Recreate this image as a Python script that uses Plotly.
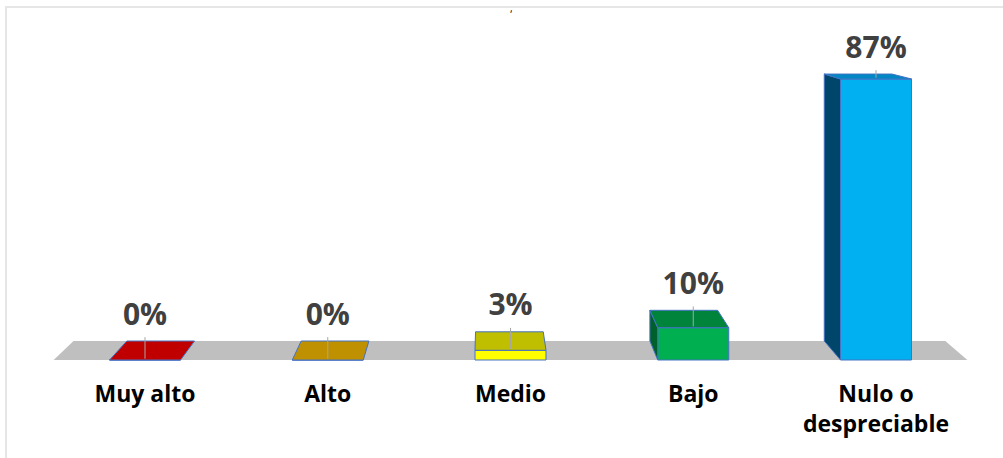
import plotly.graph_objects as go

# ---------------- data ----------------
categories = ["Muy alto", "Alto", "Medio", "Bajo", "Nulo o<br>despreciable"]
values = [0, 0, 3, 10, 87]
value_labels = ["0%", "0%", "3%", "10%", "87%"]
front_colors = ["#FF0000", "#FFC000", "#FFFF00", "#00B050", "#00B0F0"]
top_colors = ["#C00000", "#BF9000", "#BFBF00", "#00843C", "#0088C4"]
side_colors = ["#900000", "#8F6C00", "#8F8F00", "#00602C", "#00466A"]

# ---------------- geometry / style ----------------
W, H = 1003, 458
PX_PER_CAT = 182.75
FIRST_CAT_PX = 145
PX_PER_PCT = 3.23
BASE_PX = 360
PLOT_BOTTOM_PX = 374

BAR_W = 0.3885
VP_X = 1.87          # horizontal vanishing centre (category units)
PERSP = 0.0459       # horizontal depth shift per category unit
DEPTH0 = 5.88        # depth (in % units) at floor level
DEPTH_SLOPE = 0.05   # depth shrink with height

EDGE = "#4472C4"
FONT = "Open Sans"
idx = list(range(len(categories)))


def dx(x):
    return -PERSP * (x - VP_X)


def dy(v):
    return DEPTH0 - DEPTH_SLOPE * v


fig = go.Figure()

# front faces (bars)
fig.add_trace(go.Bar(
    x=idx, y=values, width=BAR_W,
    marker=dict(color=front_colors, line=dict(color=EDGE, width=1)),
    hoverinfo="skip", showlegend=False,
))

# side and top faces
for i, v in zip(idx, values):
    xl, xr = i - BAR_W / 2, i + BAR_W / 2
    d = dy(v)
    if v > 0:
        for xe in (xl, xr):
            if (xe == xl and dx(xe) < 0) or (xe == xr and dx(xe) > 0):
                fig.add_trace(go.Scatter(
                    x=[xe, xe, xe + dx(xe), xe + dx(xe), xe],
                    y=[0, v, v + d, dy(0), 0],
                    mode="lines", fill="toself", fillcolor=side_colors[i],
                    line=dict(color=EDGE, width=1),
                    hoverinfo="skip", showlegend=False,
                ))
    fig.add_trace(go.Scatter(
        x=[xl, xr, xr + dx(xr), xl + dx(xl), xl],
        y=[v, v, v + d, v + d, v],
        mode="lines", fill="toself", fillcolor=top_colors[i],
        line=dict(color=EDGE, width=1),
        hoverinfo="skip", showlegend=False,
    ))

# data labels + leader lines
label_y = [v + dy(v) + 7.4 for v in values]
lx, ly = [], []
for i, v, yl in zip(idx, values, label_y):
    lx += [i, i, None]
    ly += [v + 0.4, yl - 6.2, None]
fig.add_trace(go.Scatter(
    x=lx, y=ly, mode="lines", line=dict(color="#A6A6A6", width=1),
    hoverinfo="skip", showlegend=False,
))
fig.add_trace(go.Scatter(
    x=idx, y=label_y, text=value_labels, mode="text",
    textposition="middle center",
    textfont=dict(family=FONT, size=30, color="#404040", weight="bold"),
    hoverinfo="skip", showlegend=False,
))

# floor (behind everything)
n = len(categories)
fx = [-0.5, n - 0.5]
floor_path = (
    f"M {fx[0]},0 L {fx[1]},0 "
    f"L {fx[1] + dx(fx[1])},{DEPTH0} L {fx[0] + dx(fx[0])},{DEPTH0} Z"
)
shapes = [
    dict(type="path", path=floor_path, xref="x", yref="y",
         fillcolor="#BFBFBF", line=dict(width=0), layer="below"),
    dict(type="rect", xref="paper", yref="paper",
         x0=6 / W, x1=1.05, y0=-0.5, y1=1 - 7 / PLOT_BOTTOM_PX,
         line=dict(color="#E6E6E6", width=2), fillcolor="rgba(0,0,0,0)",
         layer="below"),
]

x_range = [-FIRST_CAT_PX / PX_PER_CAT, (W - FIRST_CAT_PX) / PX_PER_CAT]
y_range = [-(PLOT_BOTTOM_PX - BASE_PX) / PX_PER_PCT, BASE_PX / PX_PER_PCT]

fig.update_layout(
    width=W, height=H,
    margin=dict(l=0, r=0, t=0, b=H - PLOT_BOTTOM_PX),
    paper_bgcolor="white", plot_bgcolor="rgba(0,0,0,0)",
    shapes=shapes,
    showlegend=False,
    xaxis=dict(range=x_range, tickvals=idx, ticktext=categories,
               tickfont=dict(family=FONT, size=23, color="black", weight="bold"),
               ticklabelstandoff=4,
               showgrid=False, zeroline=False, showline=False, ticks="",
               fixedrange=True),
    yaxis=dict(range=y_range, visible=False, fixedrange=True),
    annotations=[dict(text=",", x=512 / W, y=1, xref="paper", yref="paper",
                      xanchor="center", yanchor="top", yshift=1,
                      showarrow=False, font=dict(size=10, color="black"))],
)

fig.write_html(
    "out.html",
    config={"displayModeBar": False},
    post_script="document.body.style.margin='0px';document.body.style.padding='0px';",
)
